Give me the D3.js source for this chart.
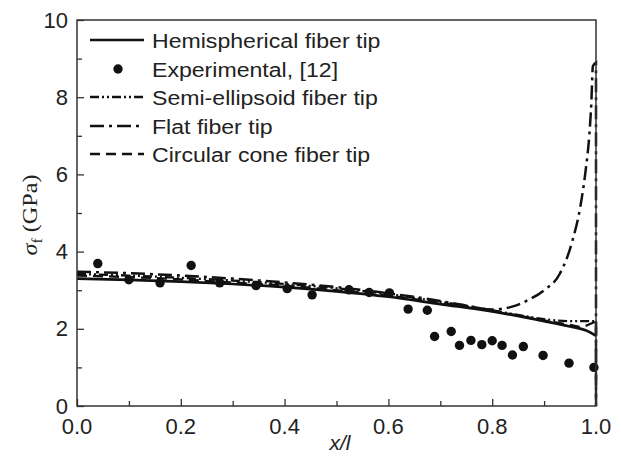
<!DOCTYPE html>
<html>
<head>
<meta charset="utf-8">
<script src="https://cdn.jsdelivr.net/npm/d3@7"></script>
<style>
  body { margin: 0; background: #fff; }
  svg { display: block; font-family: "Liberation Sans", Arial, sans-serif; }
</style>
</head>
<body>
<div id="chart"></div>
<script>
// values
const hemiX = [0, 0.1, 0.2, 0.3, 0.4, 0.5, 0.6, 0.7, 0.8, 0.9, 0.95, 0.98, 1.0]
const hemiY = [3.3, 3.27, 3.22, 3.16, 3.08, 2.97, 2.83, 2.64, 2.45, 2.2, 2.06, 1.96, 1.82]

const expX = [0.04, 0.10, 0.16, 0.22, 0.275, 0.345, 0.405, 0.453, 0.524, 0.563, 0.602, 0.638, 0.675,
  0.689, 0.721, 0.737, 0.759, 0.780, 0.800, 0.819, 0.839, 0.860, 0.898, 0.948, 0.996]
const expY = [3.69, 3.27, 3.19, 3.64, 3.19, 3.12, 3.04, 2.88, 3.01, 2.94, 2.93, 2.51, 2.48,
  1.80, 1.93, 1.57, 1.70, 1.59, 1.69, 1.57, 1.32, 1.54, 1.31, 1.11, 1.00]

const semiX = [0, 0.1, 0.2, 0.3, 0.4, 0.5, 0.6, 0.7, 0.8, 0.85, 0.9, 0.95, 0.99, 1.0, 1.0]
const semiY = [3.42, 3.38, 3.32, 3.25, 3.16, 3.05, 2.9, 2.7, 2.48, 2.36, 2.25, 2.2, 2.2, 2.2, 0]

const flatX = [0, 0.1, 0.2, 0.3, 0.4, 0.5, 0.6, 0.7, 0.75, 0.8, 0.84, 0.87, 0.9, 0.93, 0.955, 0.97, 0.98, 0.987, 0.991, 0.994, 1.0, 1.0]
const flatY = [3.48, 3.44, 3.38, 3.3, 3.2, 3.08, 2.92, 2.72, 2.6, 2.5, 2.58, 2.75, 3.0, 3.42, 4.3, 5.18, 6.1, 7.0, 7.85, 8.8, 8.9, 0]

const coneX = [0, 0.1, 0.2, 0.3, 0.4, 0.5, 0.6, 0.7, 0.8, 0.9, 0.95, 0.97, 0.993, 1.0, 1.0]
const coneY = [3.38, 3.34, 3.28, 3.2, 3.12, 3.0, 2.86, 2.67, 2.46, 2.22, 2.1, 2.05, 2.15, 2.2, 0]

const xTicks = [0, 0.2, 0.4, 0.6, 0.8, 1.0]
const yTicks = [0, 2, 4, 6, 8, 10]

const legendNames = ['Hemispherical fiber tip', 'Experimental, [12]', 'Semi-ellipsoid fiber tip',
  'Flat fiber tip', 'Circular cone fiber tip']

const W = 621, H = 464
const mLeft = 77, mRight = 596, mTop = 20, mBottom = 406

const svg = d3.select('#chart').append('svg')
  .attr('width', W)
  .attr('height', H)

const x = d3.scaleLinear().domain([0, 1]).range([mLeft, mRight])
const y = d3.scaleLinear().domain([0, 10]).range([mBottom, mTop])

const zip = (xs, ys) => xs.map((v, i) => [v, ys[i]])
const smooth = d3.line().x(d => x(d[0])).y(d => y(d[1])).curve(d3.curveMonotoneX)

// smooth part while x keeps increasing, straight segments for the drop at x = 1
function curvePath(pts) {
  let n = 1
  while (n < pts.length && pts[n][0] > pts[n - 1][0]) n++
  let d = smooth(pts.slice(0, n))
  pts.slice(n).forEach(p => { d += `L${x(p[0])},${y(p[1])}` })
  return d
}

const styles = [
  {data: zip(hemiX, hemiY), dash: null, width: 2.7},
  {data: zip(semiX, semiY), dash: '9,3,2,3,2,3', width: 2.3},
  {data: zip(flatX, flatY), dash: '14,5,3,5', width: 2.5},
  {data: zip(coneX, coneY), dash: '10,6', width: 2.3}
]

const plot = svg.append('g')
styles.forEach(s => {
  plot.append('path')
    .attr('d', curvePath(s.data))
    .attr('fill', 'none')
    .attr('stroke', '#111')
    .attr('stroke-width', s.width)
    .attr('stroke-dasharray', s.dash)
})

plot.selectAll('.pt')
  .data(zip(expX, expY))
  .enter()
  .append('circle')
  .attr('class', 'pt')
  .attr('cx', d => x(d[0]))
  .attr('cy', d => y(d[1]))
  .attr('r', 4.7)
  .attr('fill', '#111')

// frame
svg.append('rect')
  .attr('x', mLeft).attr('y', mTop)
  .attr('width', mRight - mLeft).attr('height', mBottom - mTop)
  .attr('fill', 'none')
  .attr('stroke', '#333')
  .attr('stroke-width', 1.5)

// inward ticks
const xAxis = d3.axisBottom(x).tickValues(d3.range(0, 1.01, 0.1)).tickSizeOuter(0)
  .tickSizeInner(-6).tickFormat('')
const gx = svg.append('g').attr('transform', `translate(0,${mBottom})`).call(xAxis)
gx.select('.domain').remove()
gx.selectAll('.tick line')
  .attr('y2', (d, i) => i % 2 ? -5 : -7)
  .attr('stroke', '#333').attr('stroke-width', 1.3)

const yAxis = d3.axisLeft(y).tickValues(d3.range(0, 10.1, 1)).tickSizeOuter(0)
  .tickSizeInner(-6).tickFormat('')
const gy = svg.append('g').attr('transform', `translate(${mLeft},0)`).call(yAxis)
gy.select('.domain').remove()
gy.selectAll('.tick line')
  .attr('x2', (d, i) => i % 2 ? 5 : 7)
  .attr('stroke', '#333').attr('stroke-width', 1.3)

svg.selectAll('.xl')
  .data(xTicks)
  .enter()
  .append('text')
  .attr('x', d => x(d))
  .attr('y', mBottom + 28)
  .attr('text-anchor', 'middle')
  .attr('font-size', 22)
  .attr('fill', '#222')
  .text(d => d.toFixed(1))

svg.selectAll('.yl')
  .data(yTicks)
  .enter()
  .append('text')
  .attr('x', mLeft - 9)
  .attr('y', d => y(d) + 7.5)
  .attr('text-anchor', 'end')
  .attr('font-size', 22)
  .attr('fill', '#222')
  .text(d => d)

svg.append('text')
  .attr('x', 340)
  .attr('y', 450)
  .attr('text-anchor', 'middle')
  .attr('font-size', 21)
  .attr('font-style', 'italic')
  .attr('fill', '#222')
  .text('x/l')

const ylab = svg.append('text')
  .attr('transform', 'translate(37,215) rotate(-90) scale(1.15,1)')
  .attr('text-anchor', 'middle')
  .attr('font-family', '"Liberation Serif", "Times New Roman", serif')
  .attr('font-size', 21)
  .attr('fill', '#222')
ylab.append('tspan').attr('font-style', 'italic').text('σ')
ylab.append('tspan').attr('font-size', 14).attr('dy', 5).text('f')
ylab.append('tspan').attr('dy', -5).text(' (GPa)')

// legend
const lg = svg.append('g')
const rowY = [40, 69, 97, 126, 154]
const legendDash = [null, 'dot', '9,3,2,3,2,3', '14,5,3,5', '10,6']
legendNames.forEach((name, i) => {
  if (legendDash[i] === 'dot') {
    lg.append('circle').attr('cx', 118).attr('cy', rowY[i]).attr('r', 4.7).attr('fill', '#111')
  } else {
    lg.append('line')
      .attr('x1', 90).attr('x2', 144)
      .attr('y1', rowY[i]).attr('y2', rowY[i])
      .attr('stroke', '#111')
      .attr('stroke-width', 2.6)
      .attr('stroke-dasharray', legendDash[i])
  }
  lg.append('text')
    .attr('transform', `translate(152,${rowY[i] + 7.5}) scale(1.1,1)`)
    .attr('font-size', 21)
    .attr('fill', '#222')
    .text(name)
})
</script>
</body>
</html>
